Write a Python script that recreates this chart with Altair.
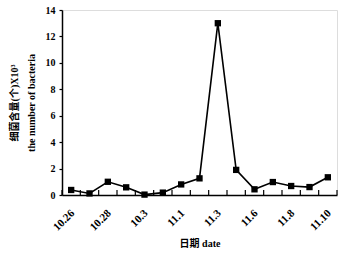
import altair as alt
import pandas as pd

dates = ["10.26", "10.27", "10.28", "10.29", "10.3", "10.31", "11.1", "11.2",
         "11.3", "11.4", "11.6", "11.7", "11.8", "11.9", "11.10"]
values = [0.38, 0.12, 1.0, 0.58, 0.03, 0.18, 0.8, 1.26,
          13.0, 1.9, 0.43, 0.98, 0.68, 0.6, 1.34]
shown_labels = ["10.26", "10.28", "10.3", "11.1", "11.3", "11.6", "11.8", "11.10"]

df = pd.DataFrame({"idx": list(range(len(dates))), "date": dates, "value": values})
ticks_df = pd.DataFrame({"t": [i - 0.5 for i in range(len(dates) + 1)]})

FONT = "Liberation Serif, Noto Sans CJK SC"
label_map = "{" + ",".join(f"{i}:'{d}'" for i, d in enumerate(dates)) + "}"
label_vals = [dates.index(d) for d in shown_labels]

xscale = alt.Scale(domain=[-0.5, len(dates) - 0.5], nice=False, zero=False)
yscale = alt.Scale(domain=[0, 14], nice=False)

xaxis = alt.Axis(values=label_vals, labelExpr=f"{label_map}[datum.value]",
                 ticks=False, labelAngle=-45, grid=False,
                 domainColor="black", domainWidth=1.5,
                 labelFont=FONT, labelFontWeight="bold", labelFontSize=11,
                 labelColor="black", labelPadding=12, labelOffset=-3,
                 title="日期 date", titleFont=FONT, titleFontWeight="bold",
                 titleFontSize=10, titleColor="black", titlePadding=6)
yaxis = alt.Axis(values=[0, 2, 4, 6, 8, 10, 12, 14], grid=False,
                 domainColor="black", domainWidth=1.5,
                 tickColor="black", tickSize=3, tickWidth=1.2,
                 labelFont=FONT, labelFontWeight="bold", labelFontSize=10,
                 labelColor="black", labelPadding=4,
                 title=["细菌含量(个)X10³", "the number of bacteria"],
                 titleFont=FONT, titleFontWeight="bold", titleFontSize=10,
                 titleColor="black", titlePadding=9, titleLineHeight=17)

base = alt.Chart(df).encode(
    x=alt.X("idx:Q", scale=xscale, axis=xaxis),
    y=alt.Y("value:Q", scale=yscale, axis=yaxis),
)
line = base.mark_line(color="black", strokeWidth=1.6)
pts = base.mark_square(color="black", size=40, opacity=1)

tick_layer = alt.Chart(ticks_df).mark_rule(color="black", strokeWidth=1.2).encode(
    x=alt.X("t:Q", scale=xscale, axis=xaxis),
    y=alt.value(185),
    y2=alt.value(180),
)

chart = alt.layer(tick_layer, line, pts).properties(
    width=275, height=185,
    padding={"left": 62, "top": 10, "right": 9, "bottom": 58},
    autosize=alt.AutoSizeParams(type="none"),
).configure_view(stroke=None).configure(background="white")

chart.save("out.html", embed_options={"renderer": "svg", "actions": False})
